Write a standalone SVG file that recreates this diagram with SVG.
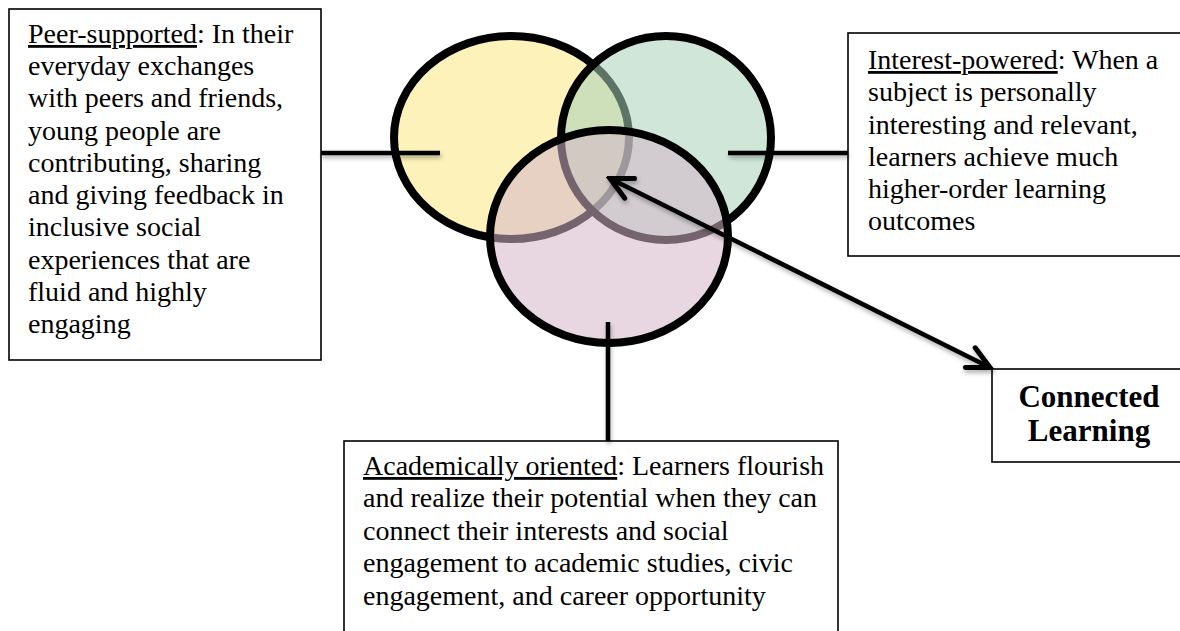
<svg xmlns="http://www.w3.org/2000/svg" width="1180" height="631" viewBox="0 0 1180 631">
<style>
.box{fill:#fff;stroke:#000;stroke-width:1.6}
.txt{font-family:"Liberation Serif","Times New Roman",serif;font-size:28px;fill:#000}
.bold{font-family:"Liberation Serif","Times New Roman",serif;font-size:31px;font-weight:bold;fill:#000}
.ell{stroke:#000;stroke-width:8;fill-opacity:0.55}
.con{stroke:#000;stroke-width:4.5;fill:none}
</style>
<defs>
<filter id="sh" x="-10%" y="-10%" width="130%" height="130%">
<feDropShadow dx="1" dy="3" stdDeviation="2" flood-color="#000" flood-opacity="0.3"/>
</filter>
<marker id="chev" markerUnits="userSpaceOnUse" viewBox="-26 -14 30 28" refX="0" refY="0" markerWidth="30" markerHeight="28" orient="auto-start-reverse">
<path d="M -22 -11 L 0 0 L -22 11" fill="none" stroke="#000" stroke-width="5" stroke-linecap="round" stroke-linejoin="miter"/>
</marker>
</defs>
<g id="node-peer">
<rect class="box" x="9" y="9" width="312" height="351"/>
<text class="txt" x="28" y="43"><tspan text-decoration="underline">Peer-supported</tspan>: In their</text>
<text class="txt" x="28" y="75">everyday exchanges</text>
<text class="txt" x="28" y="107">with peers and friends,</text>
<text class="txt" x="28" y="140">young people are</text>
<text class="txt" x="28" y="172">contributing, sharing</text>
<text class="txt" x="28" y="204">and giving feedback in</text>
<text class="txt" x="28" y="236">inclusive social</text>
<text class="txt" x="28" y="269">experiences that are</text>
<text class="txt" x="28" y="301">fluid and highly</text>
<text class="txt" x="28" y="333">engaging</text>
</g>
<g id="node-interest">
<rect class="box" x="848" y="33" width="340" height="223"/>
<text class="txt" x="868" y="69"><tspan text-decoration="underline">Interest-powered</tspan>: When a</text>
<text class="txt" x="868" y="101">subject is personally</text>
<text class="txt" x="868" y="134">interesting and relevant,</text>
<text class="txt" x="868" y="166">learners achieve much</text>
<text class="txt" x="868" y="198">higher-order learning</text>
<text class="txt" x="868" y="230">outcomes</text>
</g>
<g id="node-academic">
<rect class="box" x="344" y="441" width="494" height="200"/>
<text class="txt" x="363" y="475"><tspan text-decoration="underline">Academically oriented</tspan>: Learners flourish</text>
<text class="txt" x="363" y="507">and realize their potential when they can</text>
<text class="txt" x="363" y="540">connect their interests and social</text>
<text class="txt" x="363" y="572">engagement to academic studies, civic</text>
<text class="txt" x="363" y="605">engagement, and career opportunity</text>
</g>
<g id="node-connected">
<rect class="box" x="992" y="369" width="200" height="93"/>
<text class="bold" x="1089" y="407" text-anchor="middle">Connected</text>
<text class="bold" x="1089" y="441" text-anchor="middle">Learning</text>
</g>
<g id="node-venn">
<ellipse id="circle-peer" class="ell" cx="511.5" cy="137.5" rx="117.5" ry="101.5" fill="#fae782"/>
<ellipse id="circle-interest" class="ell" cx="666" cy="138" rx="105" ry="102" fill="#a8d2ba"/>
<ellipse id="circle-academic" class="ell" cx="609" cy="236.5" rx="119" ry="106.5" fill="#d5b6c8"/>
</g>
<g id="connectors" filter="url(#sh)">
<line class="con" x1="321" y1="153" x2="440" y2="153"/>
<line class="con" x1="728" y1="153" x2="848" y2="153"/>
<line class="con" x1="608" y1="322" x2="608" y2="441"/>
<line class="con" x1="610" y1="178.5" x2="990" y2="367.5" marker-start="url(#chev)" marker-end="url(#chev)"/>
</g>
</svg>
